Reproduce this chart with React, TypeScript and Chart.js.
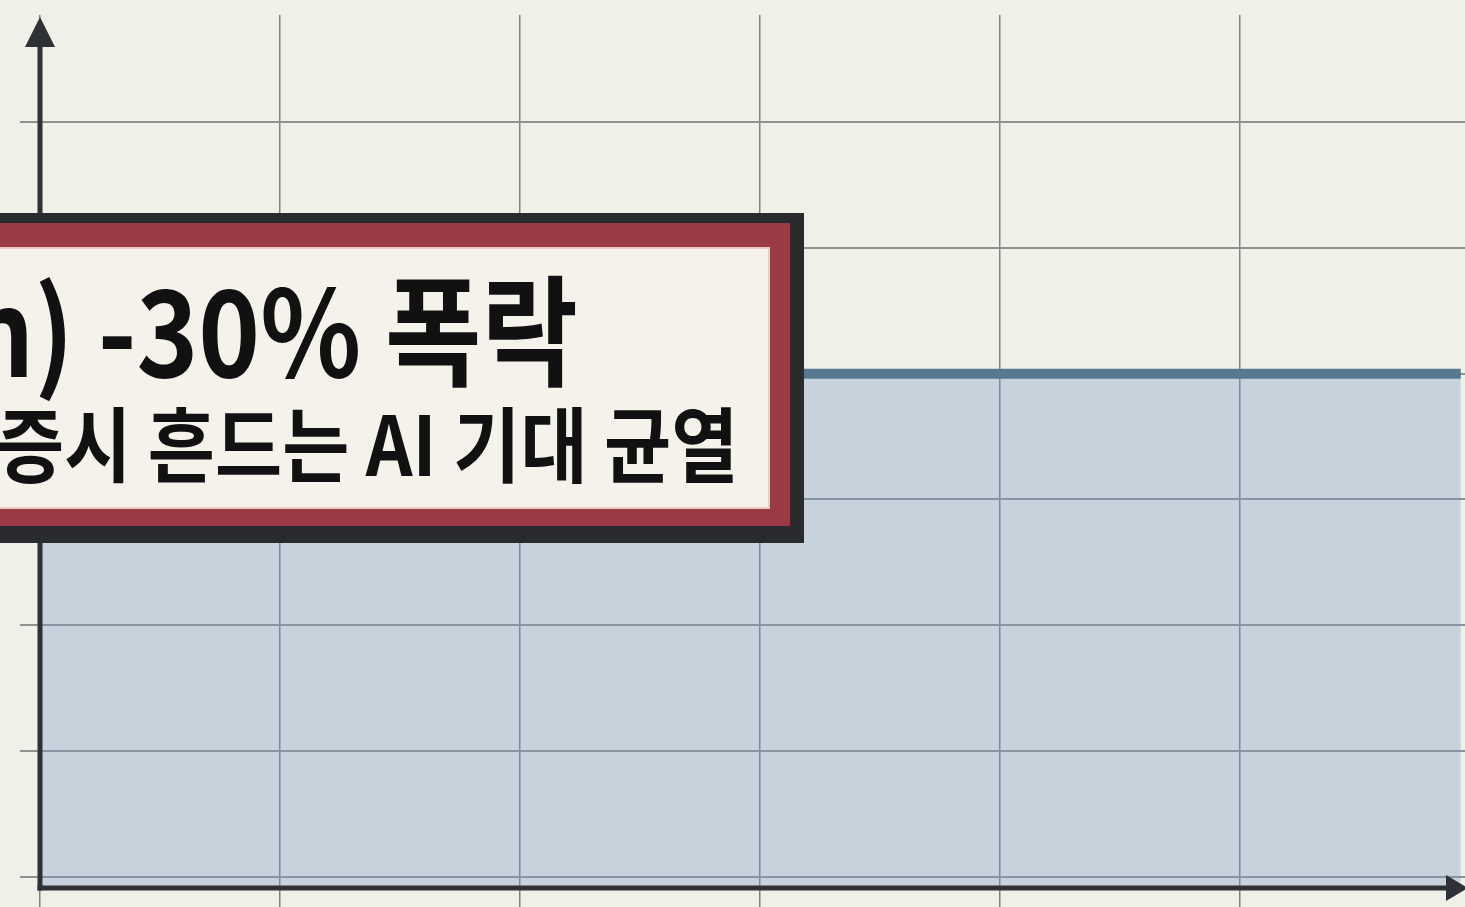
import React, { useEffect, useRef } from "react";
import { Chart, registerables } from "chart.js";

Chart.register(...registerables);

// ---- data ----
const xPositions = [0, 1, 2, 3, 4, 5, 5.92];
const seriesValues = [4, 4, 4, 4, 4, 4, 4];
const xGridTicks = [0, 1, 2, 3, 4, 5];
const yGridTicks = [0, 1, 2, 3, 4, 5, 6];
const headline = "n) -30% 폭락";
const subline = "증시 흔드는 AI 기대 균열";

const BG = "#f1f0e8";
const AXIS = "#2e3135";

const axesPlugin = {
  id: "arrowAxes",
  afterDatasetsDraw(chart: any) {
    const { ctx, chartArea } = chart;
    const left = chartArea.left;
    const bottom = chartArea.bottom + 1;
    ctx.save();
    ctx.strokeStyle = AXIS;
    ctx.fillStyle = AXIS;
    ctx.lineWidth = 5;
    ctx.lineCap = "butt";
    // y axis
    ctx.beginPath();
    ctx.moveTo(left, bottom + 2.5);
    ctx.lineTo(left, 40);
    ctx.stroke();
    ctx.beginPath();
    ctx.moveTo(left, 17);
    ctx.lineTo(left - 15, 47);
    ctx.lineTo(left + 15, 47);
    ctx.closePath();
    ctx.fill();
    // x axis
    ctx.beginPath();
    ctx.moveTo(left - 2.5, bottom);
    ctx.lineTo(1450, bottom);
    ctx.stroke();
    ctx.beginPath();
    ctx.moveTo(1468, bottom);
    ctx.lineTo(1446, bottom - 13);
    ctx.lineTo(1446, bottom + 13);
    ctx.closePath();
    ctx.fill();
    ctx.restore();
  },
};

export default function App() {
  const canvasRef = useRef<HTMLCanvasElement | null>(null);

  useEffect(() => {
    if (!canvasRef.current) return;
    const chart = new Chart(canvasRef.current, {
      type: "line",
      data: {
        datasets: [
          {
            data: xPositions.map((x, i) => ({ x, y: seriesValues[i] })),
            borderColor: "#56798f",
            borderWidth: 10,
            backgroundColor: "rgba(117,159,201,0.35)",
            fill: "start",
            pointRadius: 0,
            tension: 0,
          },
        ],
      },
      options: {
        animation: false,
        responsive: true,
        maintainAspectRatio: false,
        layout: { padding: { left: 20, top: 15, right: 0, bottom: 0 } },
        plugins: {
          legend: { display: false },
          tooltip: { enabled: false },
        },
        scales: {
          x: {
            type: "linear",
            min: 0,
            max: 5.9375,
            afterBuildTicks: (scale: any) => {
              scale.ticks = xGridTicks.map((v) => ({ value: v }));
            },
            grid: { color: "#808080", lineWidth: 1.5, tickLength: 20, drawTicks: true },
            ticks: { display: false },
            border: { display: false },
          },
          y: {
            type: "linear",
            min: -0.0795,
            max: 6.85,
            afterBuildTicks: (scale: any) => {
              scale.ticks = yGridTicks.map((v) => ({ value: v }));
            },
            grid: { color: "#909090", lineWidth: 2, tickLength: 20, drawTicks: true },
            ticks: { display: false },
            border: { display: false },
          },
        },
      },
      plugins: [axesPlugin],
    });
    return () => chart.destroy();
  }, []);

  const font = '"Noto Sans CJK KR", "Noto Sans", sans-serif';

  return (
    <div
      style={{
        position: "fixed",
        left: 0,
        top: 0,
        width: 1465,
        height: 907,
        background: BG,
        overflow: "hidden",
      }}
    >
      <canvas ref={canvasRef} style={{ position: "absolute", left: 0, top: 0 }} />
      {/* headline box */}
      <div
        style={{
          position: "absolute",
          left: -40,
          top: 213,
          width: 844,
          height: 330,
          boxSizing: "border-box",
          background: "#2a2b2e",
          padding: "10px 14px 17px 0",
        }}
      >
        <div
          style={{
            width: "100%",
            height: "100%",
            boxSizing: "border-box",
            background: "#9a3a45",
            padding: "24px 20px 17px 0",
          }}
        >
          <div
            style={{
              width: "100%",
              height: "100%",
              boxSizing: "border-box",
              background: "#f4f2ea",
              border: "2px solid #efc9c6",
              position: "relative",
              overflow: "hidden",
            }}
          >
            <div
              style={{
                position: "absolute",
                left: 5,
                top: 16,
                fontFamily: font,
                fontWeight: 700,
                fontSize: 120,
                lineHeight: "120px",
                color: "#111",
                whiteSpace: "nowrap",
                transform: "scaleX(0.874)",
                transformOrigin: "left top",
              }}
            >
              {headline}
            </div>
            <div
              style={{
                position: "absolute",
                left: 35,
                top: 151,
                fontFamily: font,
                fontWeight: 700,
                fontSize: 82,
                lineHeight: "82px",
                color: "#111",
                whiteSpace: "nowrap",
                transform: "scaleX(0.89)",
                transformOrigin: "left top",
              }}
            >
              {subline}
            </div>
          </div>
        </div>
      </div>
    </div>
  );
}
